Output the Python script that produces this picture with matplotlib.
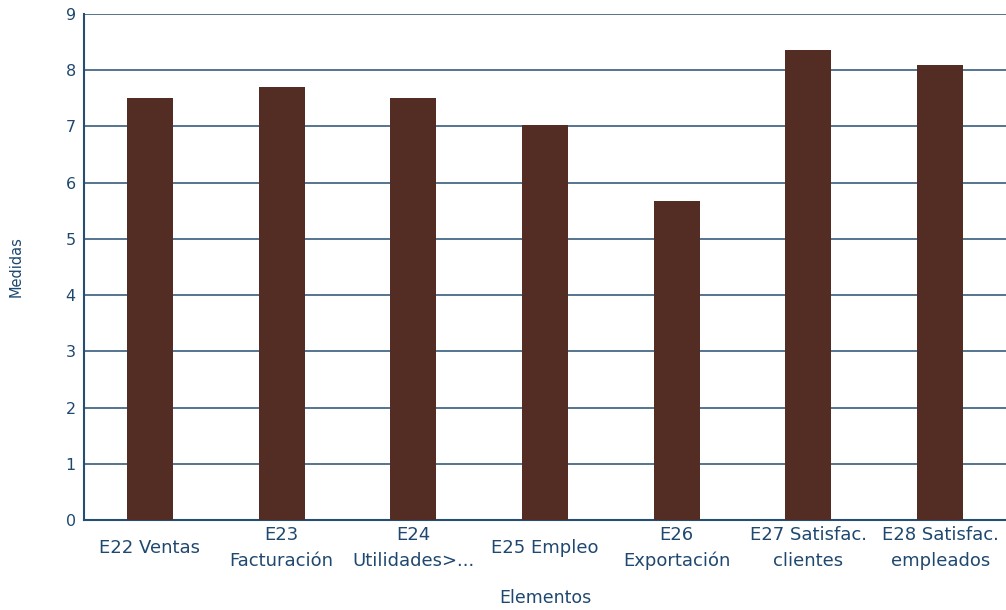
import matplotlib
matplotlib.use("Agg")
import matplotlib.pyplot as plt

categories = ["E22 Ventas", "E23\nFacturación", "E24\nUtilidades>...", "E25 Empleo",
              "E26\nExportación", "E27 Satisfac.\nclientes", "E28 Satisfac.\nempleados"]
medidas = [7.50, 7.70, 7.50, 7.03, 5.67, 8.36, 8.09]
y_ticks = list(range(0, 10))

text_color = "#1f4870"
bar_color = "#532d23"
grid_color = "#244e73"

plt.rcParams['font.family'] = ['DejaVu Sans']

fig = plt.figure(figsize=(10.06, 6.10), dpi=100)
ax = fig.add_axes([0.0835, 0.1475, 0.9165, 0.8295])

x = range(len(categories))
ax.bar(x, medidas, width=0.35, color=bar_color, zorder=3)

ax.set_xlim(-0.5, len(categories) - 0.5)
ax.set_ylim(0, 9)
ax.set_yticks(y_ticks)
ax.set_xticks(list(x))
ax.set_xticklabels(categories, fontsize=13, color=text_color, va="center",
                   linespacing=1.55)
ax.tick_params(axis="x", length=0, pad=20)
ax.tick_params(axis="y", length=0, pad=6, labelsize=11.5, labelcolor=text_color)

ax.yaxis.grid(True, color=grid_color, linewidth=1.1, zorder=0)
ax.set_axisbelow(True)

for side in ["top", "right"]:
    ax.spines[side].set_visible(False)
for side in ["left", "bottom"]:
    ax.spines[side].set_color(grid_color)
    ax.spines[side].set_linewidth(1.5)

ax.set_xlabel("Elementos", fontsize=12.5, color=text_color, labelpad=14)
ax.set_ylabel("Medidas", fontsize=10.5, color=text_color, labelpad=30)

fig.savefig("out.png", dpi=100)
